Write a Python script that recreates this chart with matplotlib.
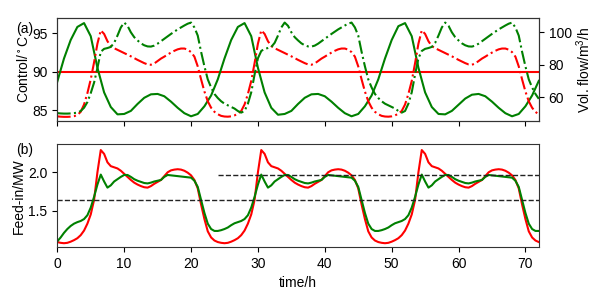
import numpy as np
import matplotlib.pyplot as plt

plt.rcParams["font.family"] = ["Liberation Sans", "DejaVu Sans"]
plt.rcParams["font.size"] = 10
plt.rcParams["mathtext.default"] = "regular"

# time grids (h)
t_hour = np.arange(73)
t_half = np.arange(145) * 0.5

# (a) control temperature, green controller (deg C), hourly
temp_green = [
    88.7, 91.7, 94.1, 95.8, 96.3, 94.6, 90.5, 87.3, 85.4, 84.45, 84.5, 84.9,
    85.8, 86.6, 87.05, 87.1, 86.8, 86.1, 85.3, 84.6, 84.2, 84.5, 85.5, 86.9,
    89.0, 91.7, 94.1, 95.8, 96.3, 94.6, 90.5, 87.3, 85.3, 84.4, 84.5, 84.9,
    85.8, 86.6, 87.05, 87.1, 86.8, 86.1, 85.3, 84.6, 84.2, 84.5, 85.5, 86.9,
    89.0, 91.7, 94.1, 95.9, 96.3, 94.6, 90.5, 87.3, 85.4, 84.5, 84.45, 84.9,
    85.7, 86.5, 87.0, 87.1, 86.8, 86.1, 85.3, 84.6, 84.2, 84.5, 85.5, 86.9,
    88.8,
]
temp_setpoint = 90.0

# (a) volume flow (m3/h), half-hourly
flow_green = [
    50.2, 50.0, 49.9, 49.9, 50.0, 50.2, 50.5, 51.5, 53.5, 57.0, 62.5, 69.0,
    78.0, 88.0, 89.8, 90.3, 91.0, 93.5, 98.0, 103.0, 106.0, 104.0, 100.0, 97.0,
    95.0, 93.2, 92.0, 91.3, 91.2, 91.8, 93.0, 94.5, 96.0, 97.5, 99.0, 100.4,
    101.8, 103.0, 104.2, 105.3, 106.0, 103.0, 98.0, 88.0, 79.0, 71.0, 66.0, 62.0,
    59.5, 57.5, 56.0, 55.0, 54.0, 53.0, 51.5, 50.5, 51.5, 56.0, 63.0, 74.0,
    84.0, 88.5, 89.8, 90.3, 91.0, 93.5, 98.0, 103.0, 106.0, 104.0, 100.0, 97.0,
    95.0, 93.2, 92.0, 91.3, 91.2, 91.8, 93.0, 94.5, 96.0, 97.5, 99.0, 100.4,
    101.8, 103.0, 104.2, 105.3, 106.0, 103.0, 98.0, 88.0, 79.0, 71.0, 66.0, 62.0,
    59.5, 57.5, 56.0, 55.0, 54.0, 53.0, 51.5, 50.5, 51.5, 56.0, 63.0, 74.0,
    84.0, 88.5, 89.8, 90.3, 91.0, 93.5, 98.0, 103.0, 106.0, 104.0, 100.0, 97.0,
    95.0, 93.2, 92.0, 91.3, 91.2, 91.8, 93.0, 94.5, 96.0, 97.5, 99.0, 100.4,
    101.8, 103.0, 104.2, 105.3, 106.0, 103.0, 98.0, 88.0, 79.0, 71.0, 66.0, 62.0,
    59.0,
]
flow_red = [
    48.2, 48.0, 47.9, 47.9, 48.0, 48.3, 49.0, 51.0, 55.5, 62.5, 71.0, 81.5,
    93.0, 101.2, 99.0, 94.5, 91.5, 90.2, 89.2, 88.2, 87.2, 86.2, 85.2, 84.1,
    83.0, 82.0, 81.0, 80.2, 80.0, 80.8, 82.3, 83.8, 85.0, 86.3, 87.5, 88.6,
    89.5, 90.0, 90.0, 89.3, 87.8, 85.0, 79.0, 71.0, 63.5, 57.5, 53.5, 51.0,
    49.5, 48.5, 48.1, 48.0, 48.2, 48.8, 49.8, 51.5, 55.5, 62.0, 70.0, 81.0,
    93.0, 101.2, 99.0, 94.5, 91.5, 90.2, 89.2, 88.2, 87.2, 86.2, 85.2, 84.1,
    83.0, 82.0, 81.0, 80.2, 80.0, 80.8, 82.3, 83.8, 85.0, 86.3, 87.5, 88.6,
    89.5, 90.0, 90.0, 89.3, 87.8, 85.0, 79.0, 71.0, 63.5, 57.5, 53.5, 51.0,
    49.5, 48.5, 48.1, 48.0, 48.2, 48.8, 49.8, 51.5, 55.5, 62.0, 70.0, 81.0,
    93.0, 101.2, 99.0, 94.5, 91.5, 90.2, 89.2, 88.2, 87.2, 86.2, 85.2, 84.1,
    83.0, 82.0, 81.0, 80.2, 80.0, 80.8, 82.3, 83.8, 85.0, 86.3, 87.5, 88.6,
    89.5, 90.0, 90.0, 89.3, 87.8, 85.0, 79.0, 71.0, 63.5, 57.5, 53.5, 51.0,
    49.3,
]

# (b) feed-in (MW), half-hourly
feed_red = [
    1.09, 1.08, 1.075, 1.08, 1.095, 1.115, 1.14, 1.18, 1.24, 1.33, 1.45, 1.64,
    2.00, 2.29, 2.24, 2.13, 2.08, 2.065, 2.05, 2.02, 1.98, 1.94, 1.90, 1.865,
    1.84, 1.82, 1.805, 1.80, 1.82, 1.85, 1.875, 1.90, 1.95, 2.00, 2.025, 2.035,
    2.04, 2.035, 2.02, 1.995, 1.96, 1.90, 1.79, 1.58, 1.39, 1.23, 1.15, 1.11,
    1.09, 1.08, 1.075, 1.08, 1.095, 1.115, 1.14, 1.18, 1.24, 1.33, 1.45, 1.64,
    2.00, 2.29, 2.24, 2.13, 2.08, 2.065, 2.05, 2.02, 1.98, 1.94, 1.90, 1.865,
    1.84, 1.82, 1.805, 1.80, 1.82, 1.85, 1.875, 1.90, 1.95, 2.00, 2.025, 2.035,
    2.04, 2.035, 2.02, 1.995, 1.96, 1.90, 1.79, 1.58, 1.39, 1.23, 1.15, 1.11,
    1.09, 1.08, 1.075, 1.08, 1.095, 1.115, 1.14, 1.18, 1.24, 1.33, 1.45, 1.64,
    2.00, 2.29, 2.24, 2.13, 2.08, 2.065, 2.05, 2.02, 1.98, 1.94, 1.90, 1.865,
    1.84, 1.82, 1.805, 1.80, 1.82, 1.85, 1.875, 1.90, 1.95, 2.00, 2.025, 2.035,
    2.04, 2.035, 2.02, 1.995, 1.96, 1.90, 1.79, 1.58, 1.39, 1.23, 1.15, 1.11,
    1.09,
]
feed_green = [
    1.10, 1.15, 1.21, 1.26, 1.30, 1.33, 1.35, 1.365, 1.39, 1.44, 1.54, 1.68,
    1.84, 1.97, 1.88, 1.80, 1.83, 1.88, 1.91, 1.94, 1.965, 1.965, 1.94, 1.91,
    1.89, 1.875, 1.86, 1.855, 1.865, 1.88, 1.89, 1.90, 1.94, 1.965, 1.96, 1.955,
    1.95, 1.945, 1.94, 1.935, 1.93, 1.89, 1.81, 1.64, 1.47, 1.33, 1.26, 1.235,
    1.235, 1.245, 1.26, 1.28, 1.31, 1.335, 1.35, 1.365, 1.39, 1.44, 1.54, 1.68,
    1.84, 1.97, 1.88, 1.80, 1.83, 1.88, 1.91, 1.94, 1.965, 1.965, 1.94, 1.91,
    1.89, 1.875, 1.86, 1.855, 1.865, 1.88, 1.89, 1.90, 1.94, 1.965, 1.96, 1.955,
    1.95, 1.945, 1.94, 1.935, 1.93, 1.89, 1.81, 1.64, 1.47, 1.33, 1.26, 1.235,
    1.235, 1.245, 1.26, 1.28, 1.31, 1.335, 1.35, 1.365, 1.39, 1.44, 1.54, 1.68,
    1.84, 1.97, 1.88, 1.80, 1.83, 1.88, 1.91, 1.94, 1.965, 1.965, 1.94, 1.91,
    1.89, 1.875, 1.86, 1.855, 1.865, 1.88, 1.89, 1.90, 1.94, 1.965, 1.96, 1.955,
    1.95, 1.945, 1.94, 1.935, 1.93, 1.89, 1.81, 1.64, 1.47, 1.33, 1.26, 1.235,
    1.235,
]

# reference levels (start h, end h, MW)
ref_levels = [(0, 72, 1.645), (24, 72, 1.97)]

RED, GREEN = "#ff0000", "#008000"

fig = plt.figure(figsize=(6, 3), dpi=100)
ax1 = fig.add_axes([0.0955, 0.597, 0.8025, 0.344])
ax2 = fig.add_axes([0.0955, 0.176, 0.8025, 0.343], sharex=ax1)
ax1r = ax1.twinx()

# --- (a) ---
ax1.axhline(temp_setpoint, color=RED, lw=1.5)
ax1.plot(t_hour, temp_green, color=GREEN, lw=1.5)
ax1r.plot(t_half, flow_red, "-.", color=RED, lw=1.5)
ax1r.plot(t_half, flow_green, "-.", color=GREEN, lw=1.5)
ax1.set_ylim(83.6, 97.0)
ax1r.set_ylim(45.4, 109.0)
ax1.set_yticks([85, 90, 95])
ax1r.set_yticks([60, 80, 100])
ax1.set_ylabel("Control/$^\\circ$C", labelpad=1)
ax1r.set_ylabel("Vol. flow/m$^3$/h", labelpad=2)
ax1.tick_params(labelbottom=False)
ax1.text(-0.068, 0.89, "(a)", transform=ax1.transAxes, ha="center", va="center")

# --- (b) ---
ax2.plot(t_half, feed_red, color=RED, lw=1.5)
ax2.plot(t_half, feed_green, color=GREEN, lw=1.5)
for x0, x1, y in ref_levels:
    ax2.plot([x0, x1], [y, y], "--", color="#222222", lw=1)
ax2.set_ylim(1.023, 2.365)
ax2.set_yticks([1.5, 2.0])
ax2.set_yticklabels(["1.5", "2.0"])
ax2.set_ylabel("Feed-in/MW", labelpad=2)
ax2.set_xlabel("time/h")
ax2.set_xlim(0, 72)
ax2.set_xticks(range(0, 71, 10))
ax2.text(-0.068, 0.945, "(b)", transform=ax2.transAxes, ha="center", va="center")

for ax in (ax1, ax1r, ax2):
    for s in ax.spines.values():
        s.set_color("#333333")

fig.savefig("out.png", dpi=100)
